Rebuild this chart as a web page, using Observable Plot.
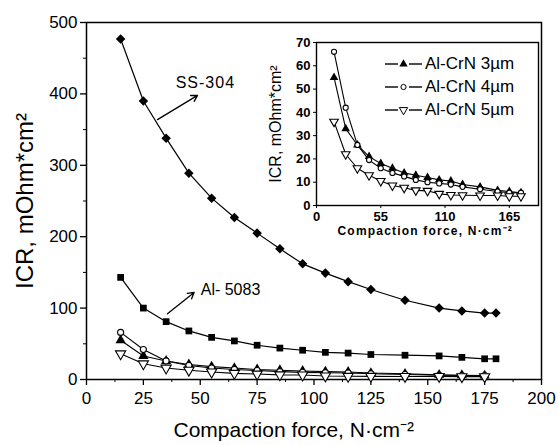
<!DOCTYPE html>
<html><head><meta charset="utf-8">
<script src="https://cdn.jsdelivr.net/npm/d3@7"></script>
<script src="https://cdn.jsdelivr.net/npm/@observablehq/plot@0.6"></script>
<style>
body{margin:0;background:#fff;}
#wrap{position:relative;width:558px;height:445px;font-family:Arial,"Liberation Sans",sans-serif;}
#main{position:absolute;left:0;top:0;}
#inset{position:absolute;left:262px;top:30px;}
#legend{position:absolute;left:385px;top:52px;font-size:17px;line-height:23px;color:#000;}
#legend div{display:flex;align-items:center;height:23px;}
#legend svg{margin-right:3px;}
</style></head><body>
<div id="wrap"><div id="main"></div><div id="inset"></div><div id="legend"></div></div>
<script>
// Data
const force = [15,25,35,45,55,65,75,85,95,105,115,125,140,155,165,175,180];
const forceCoated = [15,25,35,45,55,65,75,85,95,105,115,125,140,155,165,175];
const ss304 = [477,390,338,289,254,227,205,183,162,149,137,126,111,100,96,93,93];
const al5083 = [143,100,81,68,59,54,48,44,41,38,37,35,34,33,31,29,29];
const crn3 = [55,33,26,21,18,16,14,13,12,11,10.5,9,8,6.5,6,5.5];
const crn4 = [66,42,26,19.5,16,14,12.5,11,10,9.5,9,8,7,6,5.5,5.5];
const crn5 = [36,22,16,13,10.5,8.6,7.6,6.5,6.3,5,4.5,4.4,4.3,4.3,4,4];
const mainXTicks = [0,25,50,75,100,125,150,175,200];
const mainYTicks = [0,100,200,300,400,500];
const insetXTicks = [0,55,110,165];
const insetYTicks = [0,10,20,30,40,50,60,70];
const legendLabels = ["Al-CrN 3\u00b5m","Al-CrN 4\u00b5m","Al-CrN 5\u00b5m"];

const rows = (name, xs, ys) => xs.map((x,i)=>({series:name, x, y: ys[i]}));
const dSS = rows("SS-304", force, ss304);
const dAl = rows("Al-5083", force, al5083);
const d3u = rows(legendLabels[0], forceCoated, crn3);
const d4u = rows(legendLabels[1], forceCoated, crn4);
const d5u = rows(legendLabels[2], forceCoated, crn5);

const font = "Arial, 'Liberation Sans', sans-serif";

function seriesMarks(sz){
  return [
    Plot.line(d3u,{x:"x",y:"y",stroke:"black",strokeWidth:1.1}),
    Plot.line(d4u,{x:"x",y:"y",stroke:"black",strokeWidth:1.1}),
    Plot.line(d5u,{x:"x",y:"y",stroke:"black",strokeWidth:1.1}),
    Plot.dot(d3u,{x:"x",y:"y",symbol:"triangle",fill:"black",r:sz}),
    Plot.dot(d4u,{x:"x",y:"y",symbol:"circle",fill:"white",stroke:"black",strokeWidth:1.1,r:sz*0.8}),
    Plot.dot(d5u,{x:"x",y:"y",symbol:"triangle",rotate:180,fill:"white",stroke:"black",strokeWidth:1.1,r:sz})
  ];
}

const main = Plot.plot({
  width:558, height:445,
  marginLeft:86, marginTop:22, marginRight:17, marginBottom:66,
  style:{fontFamily:font, fontSize:"17px", background:"white"},
  x:{domain:[0,200]},
  y:{domain:[0,500]},
  marks:[
    Plot.frame({stroke:"black",strokeWidth:1.5}),
    Plot.axisX({ticks:mainXTicks,tickSize:6,tickPadding:6,label:null,fontSize:17,strokeWidth:1.3}),
    Plot.axisX({ticks:d3.range(12.5,200,25),tickSize:3,tickFormat:()=>"",label:null}),
    Plot.axisY({ticks:mainYTicks,tickSize:6,tickPadding:3,label:null,fontSize:17,strokeWidth:1.3}),
    Plot.axisY({ticks:d3.range(50,500,100),tickSize:3,tickFormat:()=>"",label:null}),
    Plot.text(["Compaction force, N\u00b7cm\u207b\u00b2"],{frameAnchor:"bottom-left",textAnchor:"start",dx:87,dy:57,fontSize:21}),
    Plot.text(["ICR, mOhm*cm\u00b2"],{frameAnchor:"left",textAnchor:"middle",rotate:-90,dx:-61,dy:0,fontSize:24}),
    Plot.line(dSS,{x:"x",y:"y",stroke:"black",strokeWidth:1.2}),
    Plot.line(dAl,{x:"x",y:"y",stroke:"black",strokeWidth:1.2}),
    Plot.dot(dSS,{x:"x",y:"y",symbol:"square",rotate:45,fill:"black",r:3.8}),
    Plot.dot(dAl,{x:"x",y:"y",symbol:"square",fill:"black",r:3.8}),
    ...seriesMarks(3.8),
    Plot.arrow([{x1:31.2,y1:364,x2:48.8,y2:398}],{x1:"x1",y1:"y1",x2:"x2",y2:"y2",stroke:"black",strokeWidth:1.3,headLength:8}),
    Plot.arrow([{x1:35.6,y1:92,x2:47.3,y2:122}],{x1:"x1",y1:"y1",x2:"x2",y2:"y2",stroke:"black",strokeWidth:1.3,headLength:8}),
    Plot.text([{x:39.2,y:415,t:"SS-304"}],{x:"x",y:"y",text:"t",textAnchor:"start",fontSize:16}),
    Plot.text([{x:50.2,y:126,t:"Al- 5083"}],{x:"x",y:"y",text:"t",textAnchor:"start",fontSize:16})
  ]
});
document.getElementById("main").appendChild(main);
d3.select(main).selectAll("text").filter(function(){return this.textContent==="SS-304";}).style("letter-spacing","1px");

const inset = Plot.plot({
  width:280, height:215,
  marginLeft:54, marginTop:12, marginRight:4, marginBottom:40,
  style:{fontFamily:font, fontSize:"13px", background:"transparent", overflow:"visible"},
  x:{domain:[0,190]},
  y:{domain:[0,70]},
  marks:[
    Plot.frame({stroke:"black",strokeWidth:1.4}),
    Plot.axisX({ticks:insetXTicks,tickSize:3,tickPadding:3,label:null,fontSize:13,fontWeight:"bold"}),
    Plot.axisY({ticks:insetYTicks,tickSize:3,tickPadding:3,label:null,fontSize:13,fontWeight:"bold"}),
    Plot.text(["Compaction force, N\u00b7cm\u207b\u00b2"],{frameAnchor:"bottom-left",textAnchor:"start",dx:21,dy:29,fontSize:12,fontWeight:"bold"}),
    Plot.text(["ICR, mOhm*cm\u00b2"],{frameAnchor:"left",textAnchor:"middle",rotate:-90,dx:-41,dy:0,fontSize:16}),
    ...seriesMarks(3.2)
  ]
});
document.getElementById("inset").appendChild(inset);
d3.select(inset).selectAll("text").filter(function(){return this.textContent.startsWith("Compaction");}).style("letter-spacing","1.2px");

// legend
const legend = d3.select("#legend");
const sym = [
  (g)=>g.append("path").attr("d",d3.symbol(d3.symbolTriangle,30)()).attr("fill","black"),
  (g)=>g.append("circle").attr("r",2.6).attr("fill","white").attr("stroke","black"),
  (g)=>g.append("path").attr("d",d3.symbol(d3.symbolTriangle,30)()).attr("transform","rotate(180)").attr("fill","white").attr("stroke","black")
];
legendLabels.forEach((lab,i)=>{
  const row = legend.append("div");
  const s = row.append("svg").attr("width",37).attr("height",12);
  s.append("line").attr("x1",0).attr("x2",13).attr("y1",6).attr("y2",6).attr("stroke","black").attr("stroke-width",1.4);
  s.append("line").attr("x1",24).attr("x2",37).attr("y1",6).attr("y2",6).attr("stroke","black").attr("stroke-width",1.4);
  sym[i](s.append("g").attr("transform","translate(18.5,6)"));
  row.append("span").text(lab);
});
</script>
</body></html>
